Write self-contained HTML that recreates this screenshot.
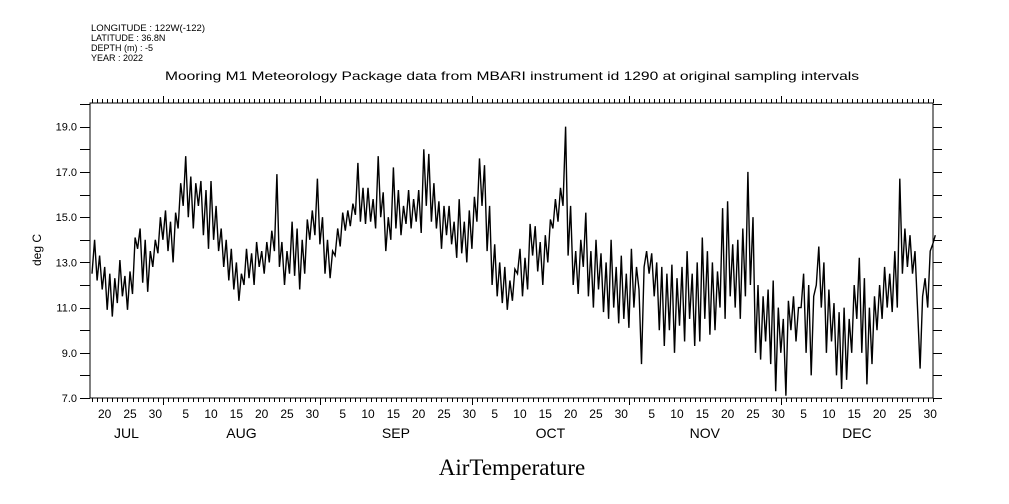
<!DOCTYPE html>
<html><head><meta charset="utf-8">
<style>
html,body{margin:0;padding:0;background:#fff;}
svg{display:block;}
text{font-family:"Liberation Sans",sans-serif;fill:#000;}
</style></head>
<body>
<svg id="chart" width="1009" height="504" viewBox="0 0 1009 504" xmlns="http://www.w3.org/2000/svg">
<g font-size="9">
<text x="91" y="31" textLength="114" lengthAdjust="spacingAndGlyphs">LONGITUDE : 122W(-122)</text>
<text x="91" y="41">LATITUDE : 36.8N</text>
<text x="91" y="51">DEPTH (m) : -5</text>
<text x="91" y="61">YEAR : 2022</text>
</g>
<text x="512" y="80" text-anchor="middle" font-size="12" textLength="694" lengthAdjust="spacingAndGlyphs">Mooring M1 Meteorology Package data from MBARI instrument id 1290 at original sampling intervals</text>
<text transform="translate(41,250) rotate(-90)" text-anchor="middle" font-size="12">deg C</text>
<text x="512" y="475" text-anchor="middle" font-size="23" style="font-family:'Liberation Serif',serif">AirTemperature</text>
<g id="axes"></g>
<g id="series"></g>
</svg>
<script>
const startDay = 199;      // day-of-year of first sample
const stepDays = 0.5;      // sampling step
const temps = [
12.5,14.0, 12.2,13.3, 11.8,12.8, 10.9,12.5, 10.6,12.3, 11.2,13.1, 11.5,12.4, 10.9,12.6, 11.6,14.1, 13.6,14.5,
12.1,14.0, 11.7,13.5, 12.8,14.0, 13.4,15.0, 14.0,15.3, 13.5,14.8, 13.0,15.2, 14.5,16.5, 15.5,17.7, 15.0,16.8,
14.5,16.5, 15.5,16.6, 14.2,16.2, 13.6,16.6, 14.0,15.5, 13.5,14.5, 12.8,14.0, 12.2,13.6, 11.8,13.0, 11.3,12.5,
12.0,13.6, 12.3,13.4, 12.0,13.9, 12.8,13.5, 12.5,13.9, 13.0,14.4, 13.5,16.9, 12.8,13.9, 12.0,13.5, 12.5,14.8,
12.4,14.5, 11.8,14.0, 12.5,14.9, 14.0,15.3, 14.2,16.7, 13.8,15.0, 12.5,14.0, 12.3,13.5, 13.3,14.5, 13.7,15.2,
14.4,15.3, 14.6,15.6, 15.1,17.4, 14.8,16.3, 14.7,16.3, 14.8,15.8, 14.5,17.7, 15.0,16.1, 13.5,15.0, 14.0,17.2,
14.5,16.2, 14.2,15.5, 14.7,16.2, 14.5,15.8, 14.8,16.2, 14.3,18.0, 15.5,17.8, 14.8,16.5, 14.5,15.7, 13.6,15.5,
14.2,15.5, 13.8,14.8, 13.2,15.8, 13.4,14.8, 13.0,15.3, 13.6,15.9, 14.8,17.6, 15.5,17.3, 13.5,15.5, 12.0,13.8,
11.5,13.0, 11.2,12.8, 10.9,12.2, 11.3,12.7, 12.5,13.6, 11.5,13.2, 11.8,14.7, 13.3,14.6, 12.6,13.9, 12.0,14.2,
13.0,14.9, 14.5,15.8, 14.8,16.3, 15.5,19.0, 13.3,15.5, 12.0,13.5, 11.6,14.0, 12.8,15.2, 11.5,13.5, 11.0,14.0,
11.8,13.4, 10.8,13.0, 10.5,14.0, 11.0,12.8, 10.3,13.3, 10.5,12.5, 10.1,13.6, 11.0,12.8, 11.8,8.5, 12.8,13.5,
12.5,13.4, 11.5,13.0, 10.0,12.8, 9.3,12.5, 10.0,12.9, 9.0,12.3, 10.2,12.8, 9.5,13.5, 10.5,12.5, 9.3,13.0,
9.5,14.1, 10.5,13.5, 9.8,13.0, 10.0,12.6, 11.0,15.4, 10.5,15.7, 11.5,13.8, 11.0,14.0, 10.5,14.5, 11.5,17.0,
12.0,15.0, 9.0,12.0, 8.7,11.5, 9.5,11.8, 8.5,12.2, 7.3,11.0, 9.0,10.5, 7.1,11.3, 10.0,11.5, 9.5,11.0,
11.0,12.5, 9.0,12.0, 8.0,11.5, 12.0,13.7, 11.0,13.0, 9.0,11.8, 9.5,11.2, 8.0,10.8, 7.4,11.0, 7.8,10.5,
9.0,12.0, 10.5,13.2, 9.0,12.3, 7.6,11.0, 8.5,11.5, 10.0,12.0, 10.5,12.8, 11.0,12.5, 10.8,13.5, 11.0,16.7,
12.5,14.5, 12.8,14.2, 12.5,13.5, 10.9,8.3, 11.5,12.3, 11.0,13.5, 13.8,14.2
];
const yTicks = [7,8,9,10,11,12,13,14,15,16,17,18,19,20];
const yLabels = ["7.0","9.0","11.0","13.0","15.0","17.0","19.0"];
const months = ["JUL","AUG","SEP","OCT","NOV","DEC"];
const monthStarts = [182,213,244,274,305,335,366];

const L=90,R=933,T=103,B=398;
const d0=198.6,d1=365.05,yMin=7,yMax=20.05;
const xS=d=>L+(d-d0)/(d1-d0)*(R-L);
const yS=v=>B-(v-yMin)/(yMax-yMin)*(B-T);
const NS="http://www.w3.org/2000/svg";
const axes=document.getElementById('axes');
function mk(tag,attrs,parent){const e=document.createElementNS(NS,tag);for(const k in attrs)e.setAttribute(k,attrs[k]);parent.appendChild(e);return e;}

const frame=mk('rect',{x:L,y:T,width:R-L,height:B-T,fill:'none',stroke:'#000','stroke-width':1},axes);



yTicks.forEach(v=>{
  if(v>yMax)return;
  const y=Math.round(yS(v))+0.5;
  const t1=mk('line',{x1:L-10,x2:L,y1:y,y2:y,stroke:'#000'},axes);
  
  
  const t2=mk('line',{x1:R,x2:R+9,y1:y,y2:y,stroke:'#000'},axes);
  
  
});
yLabels.forEach(s=>{
  const v=parseFloat(s);
  const tx=mk('text',{x:L-13,y:yS(v)+4,'text-anchor':'end','font-size':11},axes);
  tx.textContent=s;
  
  
});

for(let d=Math.ceil(d0);d<=d1;d++){
  const x=Math.round(xS(d))+0.5;
  const major=monthStarts.includes(d);
  const len=major?7:4;
  const b=mk('line',{x1:x,x2:x,y1:B,y2:B+len,stroke:'#000'},axes);
  
  
  const t=mk('line',{x1:x,x2:x,y1:T,y2:T-len,stroke:'#000'},axes);
  
  
}
for(let m=0;m<months.length;m++){
  const ms=monthStarts[m],me=monthStarts[m+1];
  for(let dom=5;dom<=30;dom+=5){
    const d=ms+dom-1;
    if(d>=me||d+0.5<d0||d+0.5>d1)continue;
    const tx=mk('text',{x:xS(d+0.5),y:418,'text-anchor':'middle','font-size':12},axes);
    tx.textContent=String(dom);
    
    
  }
  const a=Math.max(ms,d0),b=Math.min(me,d1);
  const ml=mk('text',{x:xS((a+b)/2),y:438,'text-anchor':'middle','font-size':14},axes);
  ml.textContent=months[m];
  
  
}

const pts=temps.map((v,i)=>xS(startDay+i*stepDays).toFixed(1)+','+yS(v).toFixed(1)).join(' ');
const line=mk('polyline',{points:pts,fill:'none',stroke:'#000','stroke-width':1.4,'stroke-linejoin':'miter'},document.getElementById('series'));


</script>
</body></html>
